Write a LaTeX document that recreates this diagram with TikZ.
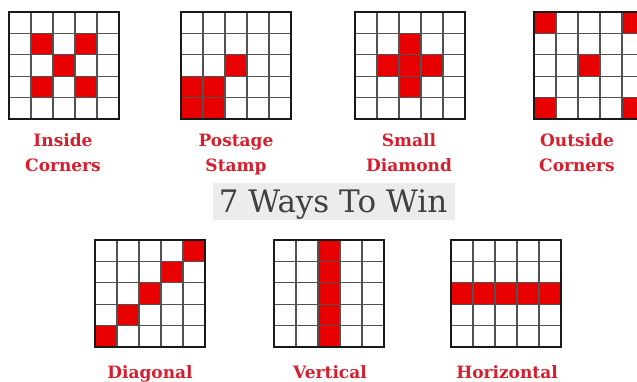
\documentclass[tikz,border=0pt]{standalone}
\usepackage{fontspec}
\setmainfont{DejaVu Serif}
\definecolor{cellred}{RGB}{232,0,0}
\definecolor{labelred}{RGB}{214,30,44}
\definecolor{titlebg}{RGB}{236,236,236}
\definecolor{titlefg}{RGB}{64,64,64}
\tikzset{
  innerline/.style={line width=1.1pt, draw=black!68},
  outerline/.style={line width=1.8pt, draw=black!90},
  redcell/.style={fill=cellred},
  winlabel/.style={text=labelred, font=\bfseries\fontsize{17}{25}\selectfont, align=center, anchor=base, inner sep=0pt},
}
\newcommand{\wingrid}[3]{%
  \begin{scope}[shift={(#1,#2)}]
    \foreach \c/\r in {#3} \fill[redcell] (\c*22,\r*21.4) rectangle ++(22,21.4);
    \foreach \i in {1,...,4} {
      \draw[innerline] (\i*22,0) -- (\i*22,107);
      \draw[innerline] (0,\i*21.4) -- (110,\i*21.4);
    }
    \draw[outerline] (0,0) rectangle (110,107);
  \end{scope}}
\begin{document}
\begin{tikzpicture}[x=1pt,y=-1pt]
\useasboundingbox (0,0) rectangle (637,382);
\clip (0,0) rectangle (637,382);
\fill[white] (0,0) rectangle (637,382);
% top row
\wingrid{9}{12}{1/1,3/1,2/2,1/3,3/3}
\wingrid{181}{12}{2/2,0/3,1/3,0/4,1/4}
\wingrid{355}{12}{2/1,1/2,2/2,3/2,2/3}
\wingrid{534}{12}{0/0,4/0,2/2,0/4,4/4}
% bottom row
\wingrid{95}{240}{4/0,3/1,2/2,1/3,0/4}
\wingrid{274}{240}{2/0,2/1,2/2,2/3,2/4}
\wingrid{451}{240}{0/2,1/2,2/2,3/2,4/2}
% labels
\node[winlabel] (l1) at (63,172) {Inside\\Corners};
\node[winlabel] (l2) at (236,172) {Postage\\Stamp};
\node[winlabel] (l3) at (409,172) {Small\\Diamond};
\node[winlabel] (l4) at (577,172) {Outside\\Corners};
\node[winlabel] (l5) at (150,378) {Diagonal};
\node[winlabel] (l6) at (330,378) {Vertical};
\node[winlabel] (l7) at (507,378) {Horizontal};
% title
\node[fill=titlebg, minimum width=242pt, minimum height=37pt, inner sep=0pt] (titlebox) at (334,201.5) {};
\node[text=titlefg, font=\fontsize{31}{36}\selectfont, anchor=base, inner sep=0pt] (title) at (333,212) {7 Ways To Win};
\end{tikzpicture}
\end{document}
